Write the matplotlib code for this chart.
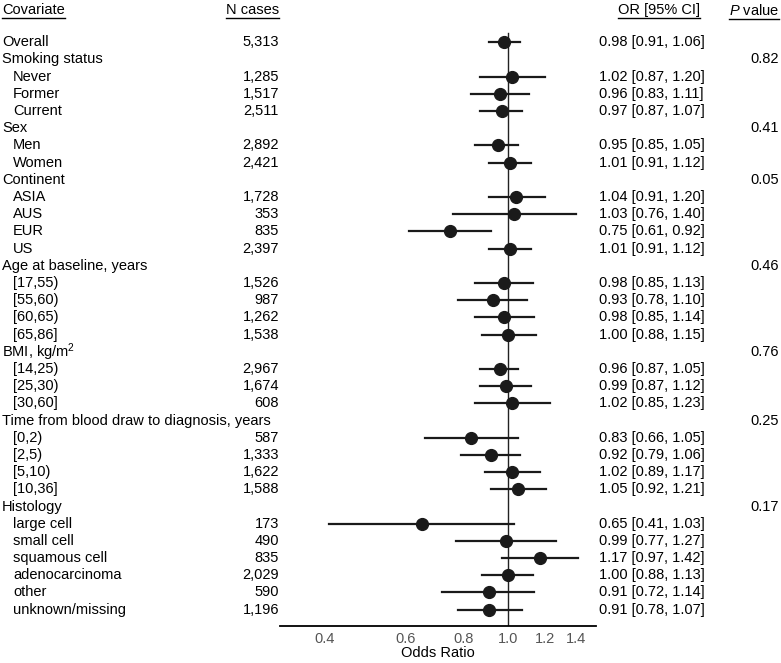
import matplotlib
matplotlib.use("Agg")
import matplotlib.pyplot as plt
import matplotlib.transforms as mtransforms
from matplotlib.lines import Line2D

plt.rcParams['font.family'] = ['Liberation Sans', 'DejaVu Sans']
plt.rcParams['mathtext.fontset'] = 'custom'
plt.rcParams['mathtext.rm'] = 'Liberation Sans'
plt.rcParams['mathtext.it'] = 'Liberation Sans:italic'

# rows: label, is group header
labels = ["Overall", "Smoking status", "Never", "Former", "Current",
          "Sex", "Men", "Women",
          "Continent", "ASIA", "AUS", "EUR", "US",
          "Age at baseline, years", "[17,55)", "[55,60)", "[60,65)", "[65,86]",
          "BMI, kg/m$^2$", "[14,25)", "[25,30)", "[30,60]",
          "Time from blood draw to diagnosis, years", "[0,2)", "[2,5)", "[5,10)", "[10,36]",
          "Histology", "large cell", "small cell", "squamous cell", "adenocarcinoma",
          "other", "unknown/missing"]
indent = [0, 0, 1, 1, 1, 0, 1, 1, 0, 1, 1, 1, 1, 0, 1, 1, 1, 1, 0, 1, 1, 1,
          0, 1, 1, 1, 1, 0, 1, 1, 1, 1, 1, 1]
ncases = ["5,313", "", "1,285", "1,517", "2,511", "", "2,892", "2,421",
          "", "1,728", "353", "835", "2,397",
          "", "1,526", "987", "1,262", "1,538",
          "", "2,967", "1,674", "608",
          "", "587", "1,333", "1,622", "1,588",
          "", "173", "490", "835", "2,029", "590", "1,196"]
odds = [0.98, None, 1.02, 0.96, 0.97, None, 0.95, 1.01,
        None, 1.04, 1.03, 0.75, 1.01,
        None, 0.98, 0.93, 0.98, 1.00,
        None, 0.96, 0.99, 1.02,
        None, 0.83, 0.92, 1.02, 1.05,
        None, 0.65, 0.99, 1.17, 1.00, 0.91, 0.91]
lower = [0.91, None, 0.87, 0.83, 0.87, None, 0.85, 0.91,
         None, 0.91, 0.76, 0.61, 0.91,
         None, 0.85, 0.78, 0.85, 0.88,
         None, 0.87, 0.87, 0.85,
         None, 0.66, 0.79, 0.89, 0.92,
         None, 0.41, 0.77, 0.97, 0.88, 0.72, 0.78]
upper = [1.06, None, 1.20, 1.11, 1.07, None, 1.05, 1.12,
         None, 1.20, 1.40, 0.92, 1.12,
         None, 1.13, 1.10, 1.14, 1.15,
         None, 1.05, 1.12, 1.23,
         None, 1.05, 1.06, 1.17, 1.21,
         None, 1.03, 1.27, 1.42, 1.13, 1.14, 1.07]
pvalues = ["", "0.82", "", "", "", "0.41", "", "",
           "0.05", "", "", "", "",
           "0.46", "", "", "", "",
           "0.76", "", "", "",
           "0.25", "", "", "", "",
           "0.17", "", "", "", "", "", ""]
xticks = [0.4, 0.6, 0.8, 1.0, 1.2, 1.4]

W, H = 781, 663
fig = plt.figure(figsize=(W / 100, H / 100), dpi=100)
ax = fig.add_axes([280 / W, 1 - 626 / H, 316 / W, 626 / H])
ax.set_xscale('log')
ax.set_xlim(0.321, 1.55)
ax.set_ylim(33.95, -2.46)
for s in ['top', 'right', 'left']:
    ax.spines[s].set_visible(False)
ax.spines['bottom'].set_linewidth(1.3)
ax.set_yticks([])
ax.set_xticks(xticks)
ax.set_xticklabels(["%.1f" % t for t in xticks], color='#555555', fontsize=10.5)
ax.xaxis.set_minor_locator(matplotlib.ticker.NullLocator())
ax.tick_params(axis='x', length=0, pad=4)
ax.set_xlabel("Odds Ratio", fontsize=10.5, labelpad=0)

ax.plot([1, 1], [-0.55, 33.95], color='#222222', lw=1, zorder=1)

fs = 10.5
tr = mtransforms.blended_transform_factory(fig.transFigure, ax.transData)
for i in range(len(labels)):
    ax.text((2 + 11 * indent[i]) / W, i, labels[i], transform=tr, fontsize=fs,
            va='center', ha='left', clip_on=False)
    if ncases[i]:
        ax.text(279 / W, i, ncases[i], transform=tr, fontsize=fs, va='center', ha='right')
    if pvalues[i]:
        ax.text(779 / W, i, pvalues[i], transform=tr, fontsize=fs, va='center', ha='right')
    if odds[i] is not None:
        ax.plot([lower[i], upper[i]], [i, i], color='#1a1a1a', lw=1.6, zorder=2)
        ax.plot(odds[i], i, 'o', color='#1a1a1a', ms=8.5, zorder=3)
        ax.text(599 / W, i, "%.2f [%.2f, %.2f]" % (odds[i], lower[i], upper[i]),
                transform=tr, fontsize=fs, va='center', ha='left')

# column headers, underlined
hy = -1.85
heads = [
    ax.text(2 / W, hy, "Covariate", transform=tr, fontsize=fs, va='center', ha='left'),
    ax.text(279 / W, hy, "N cases", transform=tr, fontsize=fs, va='center', ha='right'),
    ax.text(618 / W, hy, "OR [95% CI]", transform=tr, fontsize=fs, va='center', ha='left'),
    ax.text(779 / W, hy, r"$\it{P}$ value", transform=tr, fontsize=fs, va='center', ha='right'),
]
fig.canvas.draw()
r = fig.canvas.get_renderer()
for t in heads:
    bb = t.get_window_extent(r)
    y0 = bb.y0 - 1
    fig.add_artist(Line2D([bb.x0 / W, bb.x1 / W], [y0 / H, y0 / H], color='black', lw=1))

fig.savefig("out.png", dpi=100)
